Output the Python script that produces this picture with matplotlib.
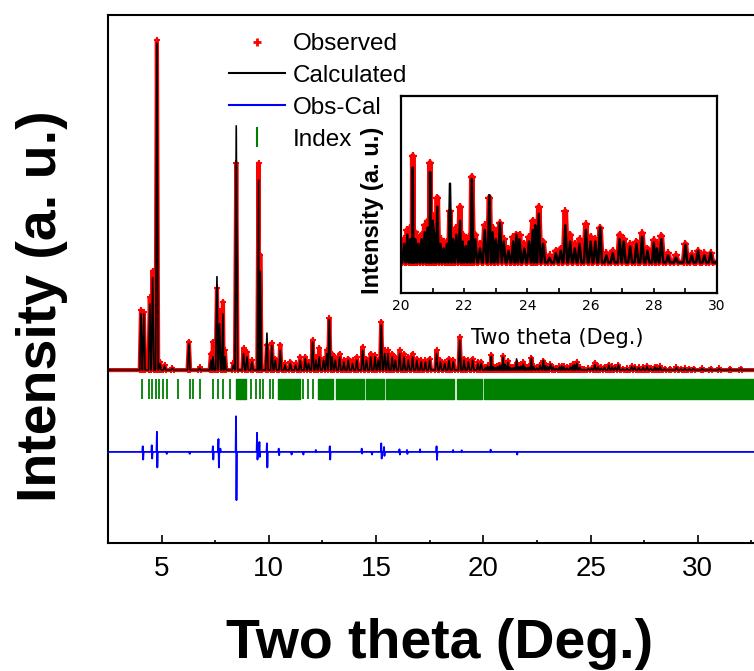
import matplotlib
matplotlib.use("Agg")
import matplotlib.pyplot as plt
from matplotlib.lines import Line2D
from matplotlib.ticker import MultipleLocator

# peak list: 2theta, calculated and observed height (baseline = 0)
peak_pos = [4.04, 4.17, 4.45, 4.58, 4.78, 4.92, 5.14, 5.50, 6.27, 6.77,
            7.30, 7.39, 7.58, 7.70, 7.86, 7.95, 8.35, 8.48, 8.82, 8.98,
            9.21, 9.52, 9.60, 9.91, 10.14, 10.30, 10.53, 10.75, 11.00, 11.25,
            11.46, 11.70, 11.85, 12.04, 12.20, 12.35, 12.55, 12.70, 12.82, 12.95,
            13.10, 13.30, 13.50, 13.70, 13.90, 14.10, 14.37, 14.55, 14.75, 14.95,
            15.10, 15.24, 15.40, 15.55, 15.75, 15.90, 16.10, 16.30, 16.50, 16.70,
            16.90, 17.10, 17.30, 17.50, 17.82, 18.00, 18.20, 18.40, 18.60, 18.90,
            19.10, 19.30, 19.50, 19.75, 19.90,
            20.10, 20.20, 20.30, 20.37, 20.45, 20.55, 20.65, 20.75, 20.85, 20.92,
            21.00, 21.05, 21.15, 21.25, 21.35, 21.45, 21.55, 21.65, 21.75, 21.87,
            21.95, 22.05, 22.15, 22.24, 22.35, 22.50, 22.65, 22.80, 22.90, 23.00,
            23.13, 23.25, 23.40, 23.55, 23.65, 23.75, 23.90, 24.05, 24.17, 24.25,
            24.36, 24.50, 24.70, 24.90, 25.05, 25.20, 25.35, 25.50, 25.65, 25.85,
            26.00, 26.15, 26.30, 26.50, 26.70, 26.92, 27.05, 27.25, 27.45, 27.63,
            27.80, 28.00, 28.10, 28.24, 28.45, 28.70, 29.00, 29.20, 29.40, 29.60,
            29.80, 30.20, 30.60, 31.00, 31.50, 32.00]
calc_int = [17.0, 17.0, 20.0, 28.0, 99.0, 2.0, 1.2, 0.5, 8.0, 0.6,
            3.0, 4.0, 28.3, 14.0, 17.0, 4.0, 1.5, 74.0, 5.0, 4.0,
            2.5, 57.6, 30.0, 11.2, 7.5, 3.0, 6.0, 1.5, 2.0, 1.5,
            3.0, 3.5, 2.0, 8.6, 3.0, 4.0, 3.0, 5.0, 15.3, 4.0,
            3.0, 4.0, 2.5, 3.0, 2.0, 3.0, 6.0, 3.0, 4.0, 4.0,
            3.0, 13.6, 5.0, 5.0, 4.0, 3.0, 5.0, 4.0, 3.0, 4.0,
            3.0, 2.5, 2.5, 3.0, 5.0, 2.5, 2.0, 3.0, 2.5, 9.0,
            3.0, 2.5, 3.0, 2.0, 2.0,
            0.8, 1.2, 1.0, 4.1, 1.0, 0.8, 1.0, 1.3, 1.5, 3.9,
            1.8, 1.2, 2.4, 0.8, 0.6, 0.8, 3.4, 1.0, 1.2, 1.8,
            0.9, 0.7, 0.9, 3.6, 1.0, 0.6, 1.4, 2.9, 1.3, 1.0,
            1.7, 0.9, 0.5, 0.9, 1.2, 1.0, 0.6, 0.9, 1.4, 1.6,
            2.1, 0.8, 0.2, 0.4, 0.5, 1.6, 0.9, 0.6, 0.8, 1.4,
            0.9, 0.9, 1.5, 0.3, 0.4, 1.0, 0.9, 0.7, 0.8, 1.1,
            0.5, 0.85, 0.6, 1.0, 0.3, 0.2, 0.75, 0.3, 0.5, 0.3,
            0.4, 0.4, 0.3, 0.4, 0.3, 0.3]
obs_int = [18.2, 17.5, 22.0, 30.0, 100.0, 2.5, 1.5, 0.6, 8.6, 0.8,
           5.0, 8.6, 24.8, 18.0, 20.7, 6.0, 2.0, 62.7, 6.6, 5.5,
           3.0, 62.7, 35.0, 7.7, 8.2, 3.5, 7.7, 2.0, 2.5, 2.0,
           4.0, 4.0, 2.5, 9.1, 4.0, 6.7, 3.5, 6.0, 15.7, 5.0,
           4.0, 5.0, 3.0, 3.5, 3.0, 4.0, 7.0, 3.5, 5.0, 4.5,
           3.0, 14.6, 6.0, 6.0, 5.0, 4.0, 6.0, 5.0, 4.0, 5.0,
           3.5, 3.0, 3.0, 3.5, 6.0, 3.0, 2.5, 3.5, 3.0, 10.0,
           3.5, 3.0, 3.5, 2.5, 2.5,
           1.0, 1.4, 1.5, 4.6, 1.3, 1.0, 1.2, 1.6, 1.8, 4.3,
           2.0, 1.5, 2.8, 1.0, 0.8, 0.9, 2.2, 1.2, 1.5, 2.4,
           1.2, 0.9, 1.1, 3.7, 1.2, 0.8, 1.6, 2.8, 1.5, 1.3,
           1.7, 1.0, 0.6, 1.1, 1.2, 1.2, 0.8, 1.1, 1.8, 1.7,
           2.4, 0.9, 0.3, 0.5, 0.6, 2.2, 1.2, 0.8, 1.0, 1.65,
           1.1, 1.0, 1.5, 0.4, 0.5, 1.2, 1.0, 0.8, 0.9, 1.26,
           0.6, 0.96, 0.8, 1.15, 0.4, 0.3, 0.8, 0.35, 0.5, 0.4,
           0.4, 0.5, 0.4, 0.5, 0.4, 0.4]

# Obs-Cal spikes: position, upward and downward excursion
diff_pos = [4.13, 4.55, 4.79, 5.23, 6.30, 7.40, 7.66, 7.75, 8.48, 9.46,
            9.57, 9.92, 10.47, 11.05, 11.60, 12.20, 12.85, 14.34, 14.80, 15.25,
            15.38, 16.10, 16.45, 17.06, 17.83, 18.60, 19.00, 20.35, 21.57]
diff_up = [1.7, 2.0, 6.1, 0.0, 0.0, 1.7, 3.9, 1.0, 10.8, 5.8,
           3.0, 2.6, 1.0, 0.0, 0.0, 0.6, 1.7, 1.0, 0.0, 2.6,
           1.5, 0.8, 0.6, 0.8, 1.7, 0.6, 0.5, 0.7, 0.0]
diff_down = [2.3, 2.0, 4.7, 0.6, 0.6, 2.3, 4.7, 0.0, 14.6, 2.3,
             1.5, 4.7, 1.0, 0.8, 0.8, 0.0, 2.3, 0.5, 0.8, 2.0,
             1.2, 0.8, 0.6, 0.0, 2.4, 0.0, 0.0, 0.0, 0.8]

# reflection positions (single ticks and regions where they merge into a band)
index_pos = [4.10, 4.41, 4.57, 4.75, 4.87, 5.06, 5.26, 5.76, 6.31, 6.46,
             6.77, 7.39, 7.62, 7.86, 8.17, 9.18, 9.41, 9.57, 9.72, 10.03,
             10.19, 11.59, 11.82, 12.05]
index_bands = [(8.48, 8.95), (10.42, 11.43), (12.29, 12.99), (13.14, 14.45),
               (14.52, 15.35), (15.45, 18.65), (18.75, 19.95), (20.05, 32.7)]

labels = ["Observed", "Calculated", "Obs-Cal", "Index"]

X_MIN, X_MAX = 2.5, 32.62
HALF = 0.06
IDX_TOP, IDX_BOT = -2.7, -8.8
DIFF_OFF = -24.8


def profile(pos, height):
    pts = [(X_MIN, 0.0), (X_MAX + 1, 0.0)]
    for p, h in zip(pos, height):
        pts += [(p - HALF, 0.0), (p, h), (p + HALF, 0.0)]
    pts.sort()
    return [a for a, b in pts], [b for a, b in pts]


def diff_profile():
    pts = [(X_MIN, 0.0), (X_MAX + 1, 0.0)]
    for p, u, d in zip(diff_pos, diff_up, diff_down):
        pts += [(p - 0.03, 0.0), (p - 0.01, u), (p + 0.01, -d), (p + 0.03, 0.0)]
    pts.sort()
    return [a for a, b in pts], [b + DIFF_OFF for a, b in pts]


xc, yc = profile(peak_pos, calc_int)
xo, yo = profile(peak_pos, obs_int)
xd, yd = diff_profile()

plt.rcParams['font.family'] = ['Liberation Sans', 'DejaVu Sans']

fig = plt.figure(figsize=(7.54, 6.71), dpi=100)
ax = fig.add_axes([108 / 754, 128 / 671, 646 / 754, 528 / 671])

ax.plot(xo, yo, color='red', lw=3.0, marker='+', ms=4.5, mew=1.4, zorder=2)
ax.plot(xc, yc, color='black', lw=1.2, zorder=3)
ax.plot(xd, yd, color='blue', lw=1.3, zorder=3)
ax.vlines(index_pos, IDX_BOT, IDX_TOP, color='green', lw=1.3)
ax.broken_barh([(a, b - a) for a, b in index_bands], (IDX_BOT, IDX_TOP - IDX_BOT),
               color='green')

ax.set_xlim(X_MIN, X_MAX)
ax.set_ylim(-52.4, 107.6)
ax.xaxis.set_major_locator(MultipleLocator(5))
ax.xaxis.set_minor_locator(MultipleLocator(2.5))
ax.tick_params(axis='x', which='major', direction='in', length=5.5, width=1.2,
               labelsize=20, pad=9)
ax.tick_params(axis='x', which='minor', direction='in', length=2.5, width=1.2)
ax.tick_params(axis='y', which='both', left=False, labelleft=False)
ax.spines['right'].set_visible(False)
for s in ax.spines.values():
    s.set_linewidth(1.5)

handles = [Line2D([], [], ls='none', marker='+', color='red', ms=6, mew=2),
           Line2D([], [], color='black', lw=1.5),
           Line2D([], [], color='blue', lw=1.5),
           Line2D([], [], ls='none', marker='|', color='green', ms=14, mew=1.5)]
ax.legend(handles, labels, loc='upper left', bbox_to_anchor=(229 / 754, 1 - 33 / 671),
          bbox_transform=fig.transFigure, frameon=False, fontsize=17.5,
          handlelength=2.3, handletextpad=0.33, labelspacing=0.41,
          borderpad=0, borderaxespad=0, numpoints=1)

fig.text(440 / 754, 13 / 671, "Two theta (Deg.)", ha='center', va='baseline',
         fontsize=40, fontweight='bold')
fig.text(42 / 754, 1 - 306 / 671, "Intensity (a. u.)", rotation=90, ha='center',
         va='center', fontsize=40, fontweight='bold')

# inset: 20-30 degrees
axin = fig.add_axes([401 / 754, 1 - 292.5 / 671, 316 / 754, 196.8 / 671])
axin.plot(xo, yo, color='red', lw=4.0, marker='+', ms=5.5, mew=1.6, zorder=2)
axin.plot(xc, yc, color='black', lw=1.8, zorder=3)
axin.set_xlim(20, 30)
axin.set_ylim(-1.3, 7.2)
axin.xaxis.set_major_locator(MultipleLocator(2))
axin.xaxis.set_minor_locator(MultipleLocator(1))
axin.tick_params(axis='x', which='both', direction='in', length=3.5, width=1.2,
                 labelsize=10, pad=5)
axin.tick_params(axis='y', which='both', left=False, labelleft=False)
for lab in axin.get_xticklabels():
    lab.set_family('DejaVu Sans')
for s in axin.spines.values():
    s.set_linewidth(1.6)

fig.text(557 / 754, 1 - 338 / 671, "Two theta (Deg.)", ha='center', va='center',
         fontsize=15, family='DejaVu Sans')
fig.text(372 / 754, 1 - 210 / 671, "Intensity (a. u.)", rotation=90, ha='center',
         va='center', fontsize=17, fontweight='bold')

fig.savefig("out.png", dpi=100)
